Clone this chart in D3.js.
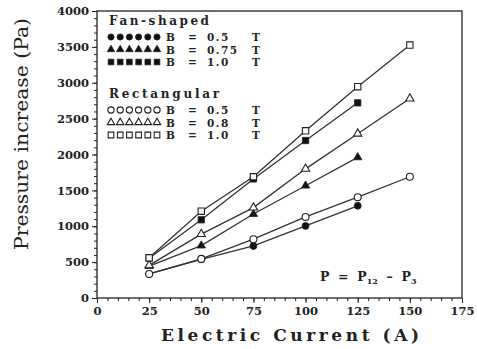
<!DOCTYPE html>
<html>
<head>
<meta charset="utf-8">
<script src="https://cdn.jsdelivr.net/npm/d3@7"></script>
<style>
  html, body { margin: 0; padding: 0; background: #fff; }
  svg { display: block; }
  text { font-family: "DejaVu Serif", "Liberation Serif", serif; fill: #222; }
</style>
</head>
<body>
<svg id="chart" width="477" height="349"></svg>
<script>
// Electric current (A) at which pressure was measured
const currentFan = [25, 50, 75, 100, 125];
const currentRect = [25, 50, 75, 100, 125, 150];

// Pressure increase (Pa), fan-shaped channel
const fan05 = [335, 540, 725, 1005, 1285];
const fan075 = [445, 730, 1170, 1565, 1960];
const fan10 = [555, 1090, 1660, 2195, 2720];

// Pressure increase (Pa), rectangular channel
const rect05 = [335, 545, 820, 1130, 1405, 1690];
const rect08 = [455, 890, 1260, 1800, 2290, 2780];
const rect10 = [560, 1210, 1690, 2330, 2945, 3525];

const xTicks = [0, 25, 50, 75, 100, 125, 150, 175];
const yTicks = [0, 500, 1000, 1500, 2000, 2500, 3000, 3500, 4000];

const series = [
  { group: "fan", label: "0.5", xs: currentFan, ys: fan05, shape: "circle", filled: true },
  { group: "fan", label: "0.75", xs: currentFan, ys: fan075, shape: "triangle", filled: true },
  { group: "fan", label: "1.0", xs: currentFan, ys: fan10, shape: "square", filled: true },
  { group: "rect", label: "0.5", xs: currentRect, ys: rect05, shape: "circle", filled: false },
  { group: "rect", label: "0.8", xs: currentRect, ys: rect08, shape: "triangle", filled: false },
  { group: "rect", label: "1.0", xs: currentRect, ys: rect10, shape: "square", filled: false }
];

const svg = d3.select("#chart");
const ink = "#222";

const x = d3.scaleLinear().domain([0, 175]).range([97, 462]);
const y = d3.scaleLinear().domain([0, 4000]).range([298, 11]);

// Frame
svg.append("rect")
  .attr("x", x(0)).attr("y", y(4000))
  .attr("width", x(175) - x(0)).attr("height", y(0) - y(4000))
  .attr("fill", "none").attr("stroke", ink).attr("stroke-width", 1.3);

// Minor ticks
const yAxisMinor = d3.axisLeft(y).tickValues(d3.range(0, 4001, 100)).tickSize(3).tickFormat("");
const xAxisMinor = d3.axisBottom(x).tickValues(d3.range(0, 176, 5)).tickSize(3).tickFormat("");
svg.append("g").attr("transform", `translate(${x(0)},0)`).call(yAxisMinor);
svg.append("g").attr("transform", `translate(0,${y(0)})`).call(xAxisMinor);

// Major ticks with labels
const yAxis = d3.axisLeft(y).tickValues(yTicks).tickSize(5).tickPadding(3).tickFormat(d3.format("d"));
const xAxis = d3.axisBottom(x).tickValues(xTicks).tickSize(5).tickPadding(3).tickFormat(d3.format("d"));
const gy = svg.append("g").attr("transform", `translate(${x(0)},0)`).call(yAxis);
const gx = svg.append("g").attr("transform", `translate(0,${y(0)})`).call(xAxis);

svg.selectAll(".domain").remove();
svg.selectAll(".tick line").attr("stroke", ink).attr("stroke-width", 1);
svg.selectAll(".tick text")
  .attr("font-family", "DejaVu Serif, serif")
  .attr("font-weight", "bold")
  .attr("font-size", 11.5)
  .attr("fill", ink);
gx.selectAll(".tick text").attr("dy", "0.75em");

// Axis titles
svg.append("text")
  .attr("transform", `translate(28,${134}) rotate(-90)`)
  .attr("text-anchor", "middle")
  .attr("font-size", 19)
  .attr("textLength", 232).attr("lengthAdjust", "spacingAndGlyphs")
  .text("Pressure increase (Pa)");

svg.append("text")
  .attr("x", 290).attr("y", 341)
  .attr("text-anchor", "middle")
  .attr("font-size", 17).attr("font-weight", "bold")
  .attr("textLength", 258).attr("lengthAdjust", "spacing")
  .text("Electric Current (A)");

// Marker drawing
const symbolType = { circle: d3.symbolCircle, triangle: d3.symbolTriangle, square: d3.symbolSquare };
const symbolSize = { circle: 38, triangle: 30, square: 40 };

function drawMarker(g, shape, filled, cx, cy, scale = 1) {
  g.append("path")
    .attr("d", d3.symbol().type(symbolType[shape]).size(symbolSize[shape] * scale)())
    .attr("transform", `translate(${cx},${cy})`)
    .attr("fill", filled ? "#111" : "#fff")
    .attr("stroke", "#222")
    .attr("stroke-width", filled ? 0.8 : 1.1);
}

const line = d3.line().x(d => x(d[0])).y(d => y(d[1]));
const plot = svg.append("g");

series.forEach(s => {
  const pts = s.xs.map((v, i) => [v, s.ys[i]]);
  plot.append("path")
    .attr("d", line(pts))
    .attr("fill", "none")
    .attr("stroke", "#333")
    .attr("stroke-width", 1.3);
});
series.forEach(s => {
  s.xs.forEach((v, i) => drawMarker(plot, s.shape, s.filled, x(v), y(s.ys[i])));
});

// Legend
const legend = svg.append("g");
const rowFont = 10.5;
function legendHeader(txt, baseline, len) {
  legend.append("text")
    .attr("x", 109).attr("y", baseline)
    .attr("font-size", 12).attr("font-weight", "bold")
    .attr("textLength", len).attr("lengthAdjust", "spacing")
    .text(txt);
}
function legendRow(s, cy) {
  for (let k = 0; k < 6; k++) drawMarker(legend, s.shape, s.filled, 111 + k * 9.2, cy, 0.8);
  const base = cy + 4;
  const parts = [["B", 166], ["=", 188], [s.label, 207], ["T", 252]];
  parts.forEach(([t, px]) => {
    legend.append("text")
      .attr("x", px).attr("y", base)
      .attr("font-size", rowFont).attr("font-weight", "bold")
      .attr("letter-spacing", 1.5)
      .text(t);
  });
}
legendHeader("Fan-shaped", 25, 100);
legendRow(series[0], 37);
legendRow(series[1], 49.5);
legendRow(series[2], 62);
legendHeader("Rectangular", 98, 110);
legendRow(series[3], 110);
legendRow(series[4], 122.5);
legendRow(series[5], 135);

// Pressure definition note
const note = svg.append("text")
  .attr("x", 320).attr("y", 281)
  .attr("font-size", 12.5).attr("font-weight", "bold")
  .attr("xml:space", "preserve");
note.append("tspan").text("P  =  P");
note.append("tspan").attr("font-size", 8).attr("dy", 3).text("12");
note.append("tspan").attr("dy", -3).text("  \u2013  P");
note.append("tspan").attr("font-size", 8).attr("dy", 3).text("3");
</script>
</body>
</html>
